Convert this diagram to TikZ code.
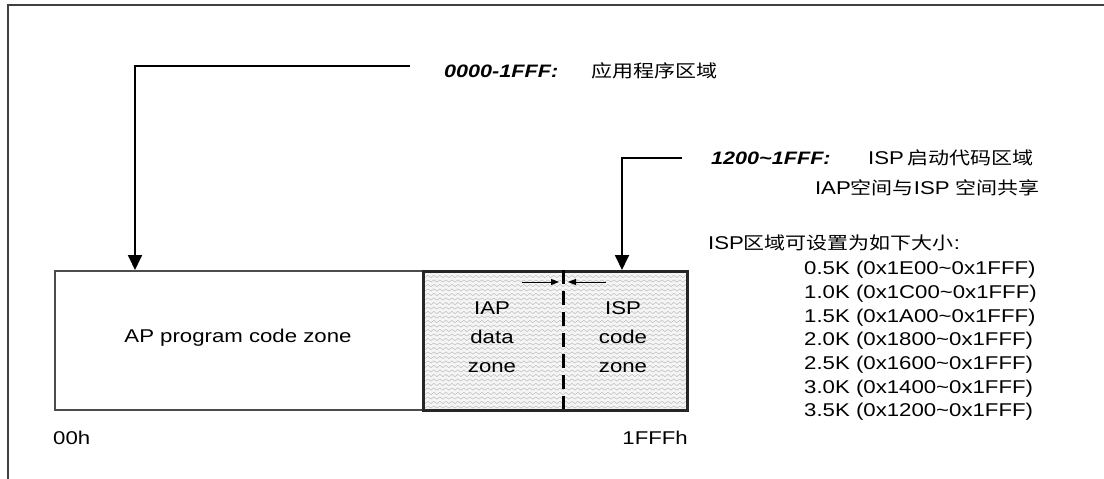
\documentclass[tikz,border=0pt]{standalone}
\usepackage{fontspec}
\setmainfont[FakeStretch=1.2]{Liberation Sans}
\newfontfamily\cjk[FakeStretch=1.2]{Noto Sans CJK SC}
\usetikzlibrary{arrows.meta,decorations.pathmorphing}
\newcommand\zh[1]{{\cjk\fontsize{17.5}{20}\selectfont #1}}
\begin{document}
\begin{tikzpicture}[x=1pt,y=-1pt,
  txt/.style={inner sep=0pt,font=\fontsize{18.5}{20}\selectfont},
  ctxt/.style={inner sep=0pt,font=\fontsize{17.5}{20}\selectfont\cjk},
  btxt/.style={inner sep=0pt,font=\fontsize{18}{20}\selectfont\bfseries\itshape},
  bigarrow/.style={line width=1.8pt,-{Triangle[width=14pt,length=15pt]}},
  smallarrow/.style={line width=1pt,-{Triangle[width=6pt,length=8pt]}},
  hatch/.style={gray!55,line width=0.5pt,decorate,decoration={snake,amplitude=1.1pt,segment length=6pt}}]
\useasboundingbox (0,0) rectangle (1104,479);
% frame
\draw[line width=2pt,black!75] (8,479) -- (8,5) -- (1104,5);
% AP box
\node[draw=black!70,line width=1.5pt,minimum width=368pt,minimum height=139pt,inner sep=0pt,anchor=north west] (ap) at (54,270) {};
% hatched box
\begin{scope}
\clip (422,270) rectangle (686,409);
\fill[gray!8] (422,270) rectangle (686,409);
\foreach \yy in {272,276.5,...,410} {\draw[hatch] (420,\yy) -- (690,\yy);}
\end{scope}
\node[draw=black!85,line width=2.5pt,minimum width=264pt,minimum height=139pt,inner sep=0pt,anchor=north west] (isp) at (422,270) {};
% divider
\coordinate (dt) at (563,270);
\coordinate (db) at (563,409);
\draw[line width=3pt,dash pattern=on 14pt off 7pt] (dt) -- (db);
\coordinate (la) at (522,282);
\coordinate (lb) at (559,282);
\coordinate (ra) at (606,282);
\coordinate (rb) at (568,282);
\draw[smallarrow] (la) -- (lb);
\draw[smallarrow] (ra) -- (rb);
% texts in boxes
\node[txt,align=center] (aptxt) at (238,338) {AP program code zone};
\node[txt,align=center,font=\fontsize{18.5}{29}\selectfont] (iap) at (492,337) {IAP\\data\\zone};
\node[txt,align=center,font=\fontsize{18.5}{29}\selectfont] (ispz) at (623,337) {ISP\\code\\zone};
\node[txt,anchor=west] (h0) at (53,438) {00h};
\node[txt,anchor=east] (h1) at (688,438) {1FFFh};
% top label 1
\node[btxt,anchor=west] (l1) at (444,71) {0000-1FFF:};
\node[ctxt,anchor=west] (l1c) at (591,71) {应用程序区域};
\coordinate (c1) at (410,66);
\coordinate (k1) at (135,66);
\draw[bigarrow] (c1) -- (k1) -- (ap.north -| k1);
% label 2
\node[btxt,anchor=west] (l2) at (711,158) {1200\textasciitilde1FFF:};
\node[txt,anchor=west] (l2a) at (868,158) {ISP\,\zh{启动代码区域}};
\node[txt,anchor=east] (l2b) at (1040,188) {IAP\zh{空间与}ISP \zh{空间共享}};
\coordinate (c2) at (682,158);
\coordinate (k2) at (622,158);
\draw[bigarrow] (c2) -- (k2) -- (isp.north -| k2);
% list
\node[txt,anchor=west] (lh) at (708,243) {ISP\zh{区域可设置为如下大小}:};
\node[txt,anchor=north west,align=left,font=\fontsize{18.5}{23.7}\selectfont] (list) at (804,261) {0.5K (0x1E00\textasciitilde0x1FFF)\\1.0K (0x1C00\textasciitilde0x1FFF)\\1.5K (0x1A00\textasciitilde0x1FFF)\\2.0K (0x1800\textasciitilde0x1FFF)\\2.5K (0x1600\textasciitilde0x1FFF)\\3.0K (0x1400\textasciitilde0x1FFF)\\3.5K (0x1200\textasciitilde0x1FFF)};
\end{tikzpicture}
\end{document}
